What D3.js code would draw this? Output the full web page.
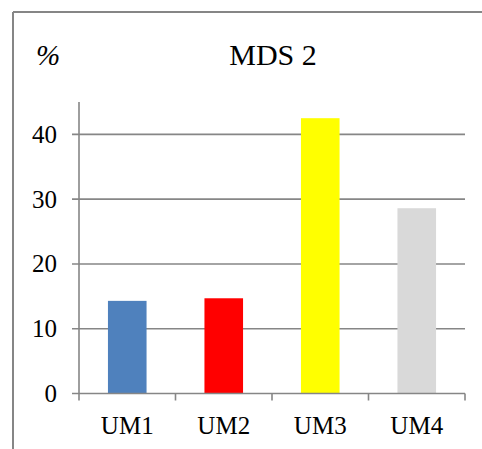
<!DOCTYPE html>
<html>
<head>
<meta charset="utf-8">
<script src="https://cdn.jsdelivr.net/npm/d3@7/dist/d3.min.js"></script>
<style>
  svg text { font-family: "Liberation Serif", "Times New Roman", Tinos !important; }
</style>
</head>
<body style="margin:0">
<svg id="mds" width="482" height="449" style="font-family: 'Liberation Serif', 'Times New Roman', Tinos;"></svg>
<script>
// Share of each unit, in percent
const categories = ["UM1", "UM2", "UM3", "UM4"];
const values = [14.3, 14.7, 42.5, 28.6];
const colors = ["#4F81BD", "#FF0000", "#FFFF00", "#D9D9D9"];
const yTicks = [0, 10, 20, 30, 40];
const title = "MDS 2";
const unitLabel = "%";

const serif = "'Liberation Serif', 'Times New Roman', Tinos";

const svg = d3.select("#mds");
const W = 482, H = 449;
const gridColor = "#868686";

// Chart frame (top and left edges visible)
svg.append("line").attr("x1", 13).attr("x2", W).attr("y1", 12).attr("y2", 12)
  .attr("stroke", gridColor).attr("stroke-width", 2);
svg.append("line").attr("x1", 13).attr("x2", 13).attr("y1", 12).attr("y2", H)
  .attr("stroke", gridColor).attr("stroke-width", 2);

const plot = { left: 79, right: 465, top: 102, bottom: 393.5 };

const x = d3.scaleBand()
  .domain(categories)
  .range([plot.left, plot.right])
  .paddingInner(0.6)
  .paddingOuter(0.3);

const y = d3.scaleLinear()
  .domain([0, 45])
  .range([plot.bottom, plot.top]);

// Horizontal gridlines with short ticks to the left of the axis
svg.append("g")
  .selectAll("line")
  .data(yTicks.filter(d => d > 0))
  .join("line")
  .attr("x1", plot.left - 7)
  .attr("x2", plot.right)
  .attr("y1", d => y(d))
  .attr("y2", d => y(d))
  .attr("stroke", gridColor)
  .attr("stroke-width", 1.6);

// Bars
svg.append("g")
  .selectAll("rect")
  .data(categories)
  .join("rect")
  .attr("x", d => x(d))
  .attr("width", x.bandwidth())
  .attr("y", (d, i) => y(values[i]))
  .attr("height", (d, i) => y(0) - y(values[i]))
  .attr("fill", (d, i) => colors[i]);

// Y axis line
svg.append("line")
  .attr("x1", plot.left).attr("x2", plot.left)
  .attr("y1", plot.top).attr("y2", plot.bottom)
  .attr("stroke", gridColor).attr("stroke-width", 1.6);

// X axis line with category boundary ticks
svg.append("line")
  .attr("x1", plot.left - 7).attr("x2", plot.right)
  .attr("y1", plot.bottom).attr("y2", plot.bottom)
  .attr("stroke", gridColor).attr("stroke-width", 1.6);

const step = x.step();
const boundaries = d3.range(categories.length + 1).map(i => plot.left + i * step);
svg.append("g")
  .selectAll("line")
  .data(boundaries)
  .join("line")
  .attr("x1", d => d).attr("x2", d => d)
  .attr("y1", plot.bottom).attr("y2", plot.bottom + 7)
  .attr("stroke", gridColor).attr("stroke-width", 1.6);

// Y tick labels
svg.append("g")
  .selectAll("text")
  .data(yTicks)
  .join("text")
  .attr("x", 57)
  .attr("y", d => y(d) + 8.5)
  .attr("text-anchor", "end")
  .attr("font-size", 25)
  .style("font-family", serif)
  .text(d => d);

// Category labels
svg.append("g")
  .selectAll("text")
  .data(categories)
  .join("text")
  .attr("x", d => x(d) + x.bandwidth() / 2)
  .attr("y", 434)
  .attr("text-anchor", "middle")
  .attr("font-size", 25)
  .style("font-family", serif)
  .text(d => d);

// Title and unit
svg.append("text")
  .attr("x", 273).attr("y", 65)
  .attr("text-anchor", "middle")
  .attr("font-size", 30)
  .style("font-family", serif)
  .text(title);

svg.append("text")
  .attr("x", 36).attr("y", 65)
  .attr("font-size", 29)
  .style("font-family", serif)
  .style("font-style", "italic")
  .text(unitLabel);
</script>
</body>
</html>
